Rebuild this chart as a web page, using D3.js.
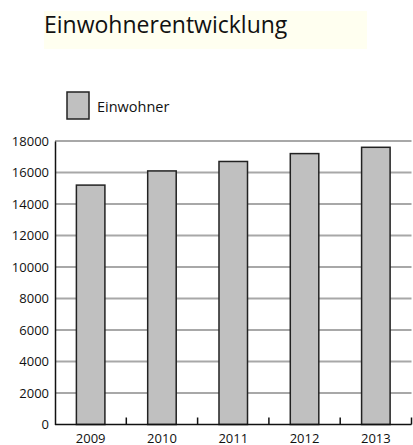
<!DOCTYPE html>
<html>
<head>
<meta charset="utf-8">
<script src="https://cdn.jsdelivr.net/npm/d3@7"></script>
<style>
  body { margin: 0; background: #fff; }
  text { font-family: "Open Sans", sans-serif; fill: #111; }
</style>
</head>
<body>
<div id="chart"></div>
<script>
const years = ["2009", "2010", "2011", "2012", "2013"];
const einwohner = [15200, 16100, 16700, 17200, 17600];
const yTicks = [0, 2000, 4000, 6000, 8000, 10000, 12000, 14000, 16000, 18000];

const svg = d3.select("#chart").append("svg")
    .attr("width", 413)
    .attr("height", 445);

// title with its pale highlight
svg.append("rect")
    .attr("x", 44).attr("y", 11)
    .attr("width", 323).attr("height", 38)
    .attr("fill", "#fffff0");
svg.append("text")
    .attr("x", 44).attr("y", 33)
    .style("font-size", "23px")
    .text("Einwohnerentwicklung");

// legend
svg.append("rect")
    .attr("x", 67).attr("y", 92)
    .attr("width", 22).attr("height", 27)
    .attr("fill", "#c0c0c0")
    .attr("stroke", "#222")
    .attr("stroke-width", 1.5);
svg.append("text")
    .attr("x", 97).attr("y", 112)
    .style("font-size", "14.5px")
    .text("Einwohner");

const margin = {top: 141, left: 55, right: 1.5, bottom: 20.5};
const width = 413 - margin.left - margin.right;
const height = 445 - margin.top - margin.bottom;
const g = svg.append("g").attr("transform", "translate(" + margin.left + "," + margin.top + ")");

const x = d3.scaleBand().domain(years).range([0, width]).paddingInner(0.6).paddingOuter(0.3);
const y = d3.scaleLinear().domain([0, 18000]).range([height, 0]);

// grid
g.selectAll("line.grid")
    .data(yTicks.filter(d => d > 0))
    .enter()
    .append("line")
        .attr("class", "grid")
        .attr("x1", 0).attr("x2", width)
        .attr("y1", d => y(d)).attr("y2", d => y(d))
        .attr("stroke", "#a8a8a8")
        .attr("stroke-width", 2);

// bars
g.selectAll("rect.bar")
    .data(einwohner)
    .enter()
    .append("rect")
        .attr("class", "bar")
        .attr("x", (d, i) => x(years[i]))
        .attr("y", d => y(d))
        .attr("width", x.bandwidth())
        .attr("height", d => height - y(d))
        .attr("fill", "#c0c0c0")
        .attr("stroke", "#222")
        .attr("stroke-width", 1.5);

// y axis
const yAxis = g.append("g")
    .call(d3.axisLeft(y).tickValues(yTicks).tickSize(0).tickPadding(6).tickFormat(d3.format("d")));
yAxis.select(".domain").attr("stroke", "#111").attr("stroke-width", 1.5);
yAxis.selectAll("text").style("font-size", "13px").attr("fill", "#111");

// x axis, ticks between the bands pointing up
const step = x.step();
const bounds = years.map((d, i) => (i + 1) * step);
g.append("line")
    .attr("x1", 0).attr("x2", width)
    .attr("y1", height).attr("y2", height)
    .attr("stroke", "#111").attr("stroke-width", 1.5);
g.selectAll("line.xtick")
    .data(bounds)
    .enter()
    .append("line")
        .attr("class", "xtick")
        .attr("x1", d => d).attr("x2", d => d)
        .attr("y1", height).attr("y2", height - 7)
        .attr("stroke", "#111").attr("stroke-width", 1.5);
g.selectAll("text.xlabel")
    .data(years)
    .enter()
    .append("text")
        .attr("class", "xlabel")
        .attr("x", d => x(d) + x.bandwidth() / 2)
        .attr("y", height + 18)
        .attr("text-anchor", "middle")
        .style("font-size", "13px")
        .text(d => d);
</script>
</body>
</html>
